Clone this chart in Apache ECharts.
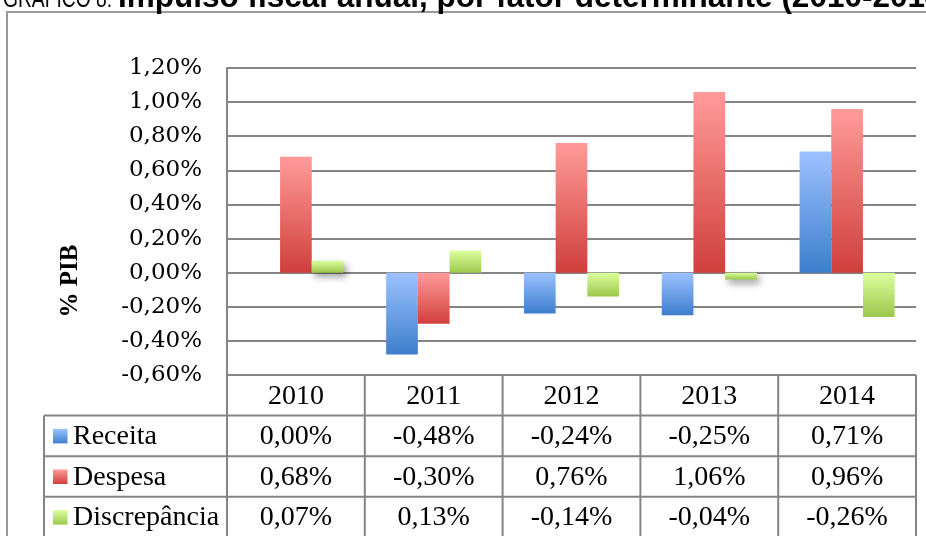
<!DOCTYPE html>
<html><head><meta charset="utf-8">
<script src="https://cdn.jsdelivr.net/npm/echarts@6/dist/echarts.min.js"></script>
<style>html,body{margin:0;padding:0;background:#fff}#c{width:926px;height:536px}</style>
</head><body><div id="c"></div>
<script>
const years = ['2010', '2011', '2012', '2013', '2014'];
const seriesNames = ['Receita', 'Despesa', 'Discrepância'];
const receita = [0.00, -0.48, -0.24, -0.25, 0.71];
const despesa = [0.68, -0.30, 0.76, 1.06, 0.96];
const discrepancia = [0.07, 0.13, -0.14, -0.04, -0.26];
const yMin = -0.6, yMax = 1.2, yStep = 0.2;
const titlePrefix = 'GRÁFICO 8:';
const titleMain = 'Impulso fiscal anual, por fator determinante (2010-2014)';
const yAxisName = '% PIB';

const allSeries = [receita, despesa, discrepancia];
const gradStops = [
  ['#9cc2ff', '#3d7ecd'],
  ['#ff9b99', '#d03f3c'],
  ['#dcff9f', '#9cc84c']
];
function grad(i) {
  return {type: 'linear', x: 0, y: 0, x2: 0, y2: 1,
    colorStops: [{offset: 0, color: gradStops[i][0]}, {offset: 1, color: gradStops[i][1]}]};
}
function fmt(v) {
  let r = Math.round(v * 100) / 100;
  if (Math.abs(r) < 1e-9) r = 0;
  return r.toFixed(2).replace('.', ',') + '%';
}
const serif = 'Liberation Serif';
const chart = echarts.init(document.getElementById('c'), null, {renderer: 'canvas'});
const GRID = {left: 227, right: 10, top: 68, bottom: 161};
chart.setOption({
  animation: false,
  backgroundColor: '#fff',
  grid: GRID,
  xAxis: {type: 'category', data: years, axisLine: {show: false}, axisTick: {show: false}, axisLabel: {show: false}, splitLine: {show: false}},
  yAxis: {type: 'value', min: yMin, max: yMax, interval: yStep,
    axisLine: {show: true, lineStyle: {color: '#858585', width: 2}},
    axisTick: {show: false},
    splitLine: {show: true, lineStyle: {color: '#858585', width: 2}},
    axisLabel: {margin: 25, fontFamily: 'DejaVu Serif', fontSize: 23, color: '#000', formatter: fmt}
  },
  series: allSeries.map((d, i) => ({
    name: seriesNames[i], type: 'bar', data: d, barGap: '0%', barCategoryGap: '31%',
    itemStyle: {color: grad(i), shadowBlur: 7, shadowOffsetX: 3, shadowOffsetY: 4, shadowColor: 'rgba(0,0,0,0.4)'}
  }))
});

// table built from the axis scale
const c0 = chart.convertToPixel({xAxisIndex: 0}, 0);
const c1 = chart.convertToPixel({xAxisIndex: 0}, 1);
const band = c1 - c0;
const tableTop = chart.convertToPixel({yAxisIndex: 0}, yMin);
const rowH = 40.6;
const labelLeft = 44;
const lineStyle = {stroke: '#858585', lineWidth: 2};
const g = [];
// outer frame
g.push({type: 'rect', shape: {x: 7, y: 12, width: 1000, height: 600}, style: {fill: null, stroke: '#9a9a9a', lineWidth: 2}, z: 1});
// title (cropped at top, as in the source)
g.push({type: 'text', x: 3, y: -0.1, scaleX: 0.74, style: {text: titlePrefix, fontFamily: 'Liberation Sans', fontSize: 26, fontWeight: 'normal', fill: '#000', align: 'left', verticalAlign: 'middle'}, z: 10});
g.push({type: 'text', x: 118, y: -1.6, style: {text: titleMain, fontFamily: 'Liberation Sans', fontSize: 31.5, fontWeight: 'bold', fill: '#000', align: 'left', verticalAlign: 'middle'}, z: 10});
// y axis name
g.push({type: 'text', x: 71, y: 281, rotation: Math.PI / 2, style: {text: yAxisName, fontFamily: serif, fontSize: 25, fontWeight: 'bold', fill: '#000', align: 'center', verticalAlign: 'middle'}, z: 10});
const leftEdge = c0 - band / 2;
const rightEdge = c0 + band * (years.length - 0.5);
const bottom = tableTop + rowH * (1 + seriesNames.length);
for (let r = 1; r <= seriesNames.length + 1; r++) {
  const y = tableTop + rowH * r;
  g.push({type: 'line', shape: {x1: labelLeft, y1: y, x2: rightEdge, y2: y}, style: lineStyle, z: 5});
}
for (let k = 0; k <= years.length; k++) {
  const x = leftEdge + band * k;
  g.push({type: 'line', shape: {x1: x, y1: tableTop, x2: x, y2: bottom}, style: lineStyle, z: 5});
}
g.push({type: 'line', shape: {x1: labelLeft, y1: tableTop + rowH, x2: labelLeft, y2: bottom}, style: lineStyle, z: 5});
years.forEach((yr, k) => {
  g.push({type: 'text', x: c0 + band * k, y: tableTop + rowH / 2 + 1, style: {text: yr, fontFamily: serif, fontSize: 28, fill: '#000', align: 'center', verticalAlign: 'middle'}, z: 10});
});
seriesNames.forEach((nm, r) => {
  const yc = tableTop + rowH * (r + 1.5) + 1;
  g.push({type: 'rect', shape: {x: 53, y: yc - 8, width: 14.5, height: 14.5}, style: {fill: grad(r)}, z: 10});
  g.push({type: 'text', x: 73, y: yc, style: {text: nm, fontFamily: serif, fontSize: 28, fill: '#000', align: 'left', verticalAlign: 'middle'}, z: 10});
  allSeries[r].forEach((v, k) => {
    g.push({type: 'text', x: c0 + band * k, y: yc, style: {text: fmt(v), fontFamily: serif, fontSize: 28, fill: '#000', align: 'center', verticalAlign: 'middle'}, z: 10});
  });
});
chart.setOption({graphic: {elements: g}});
</script>
</body></html>
